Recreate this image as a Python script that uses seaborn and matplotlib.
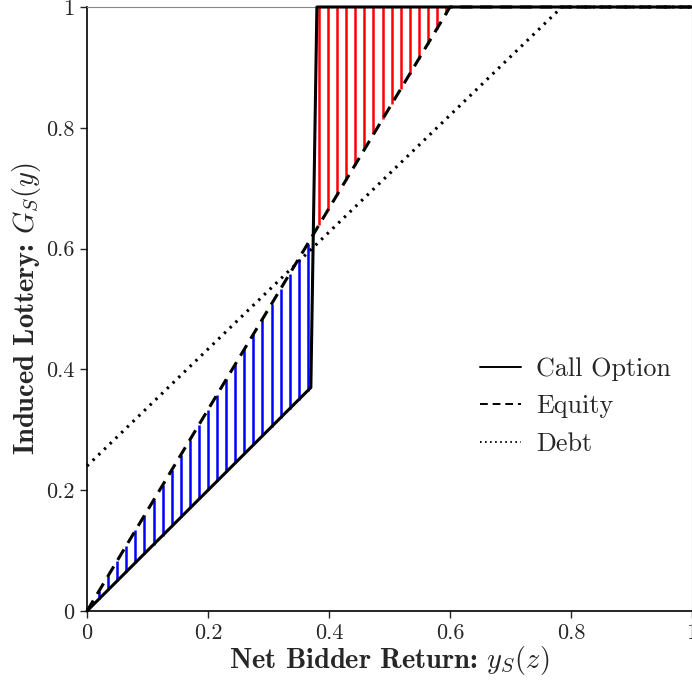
import numpy as np
import pandas as pd
import matplotlib
matplotlib.use("Agg")
import matplotlib.pyplot as plt
import seaborn as sns

# ---- data ----
call_x = [0.0, 0.37, 0.38, 1.0]
call_y = [0.0, 0.37, 1.0, 1.0]
equity_x = [0.0, 0.6, 1.0]
equity_y = [0.0, 1.0, 1.0]
debt_x = [0.0, 0.785, 1.0]
debt_y = [0.24, 1.0, 1.0]
series_names = ["Call Option", "Equity", "Debt"]
x_ticks = [0.0, 0.2, 0.4, 0.6, 0.8, 1.0]
y_ticks = [0.0, 0.2, 0.4, 0.6, 0.8, 1.0]
tick_labels = ["0", "0.2", "0.4", "0.6", "0.8", "1"]

sns.set_style("white")
plt.rcParams["mathtext.fontset"] = "cm"
plt.rcParams["font.family"] = ["cmr10", "DejaVu Serif"]
plt.rcParams["axes.unicode_minus"] = False

df = pd.concat([
    pd.DataFrame({"x": call_x, "y": call_y, "s": series_names[0]}),
    pd.DataFrame({"x": equity_x, "y": equity_y, "s": series_names[1]}),
    pd.DataFrame({"x": debt_x, "y": debt_y, "s": series_names[2]}),
])

fig = plt.figure(figsize=(6.92, 6.86), dpi=100)
ax = fig.add_axes([87/692, 75/686, 605/692, 604/686])

# hatching between call option and equity
hx_blue = np.arange(0.02, 0.3675, 0.015)
ax.vlines(hx_blue, np.interp(hx_blue, call_x, call_y), np.interp(hx_blue, equity_x, equity_y),
          colors="#0000ff", linewidth=1.8, zorder=1)
hx_red = np.arange(0.3835, 0.597, 0.015)
ax.vlines(hx_red, np.interp(hx_red, equity_x, equity_y), np.interp(hx_red, call_x, call_y),
          colors="#ff0000", linewidth=1.8, zorder=1)

sns.lineplot(data=df, x="x", y="y", hue="s", style="s", estimator=None, sort=False,
             palette={n: "black" for n in series_names},
             dashes={"Call Option": "", "Equity": (4, 2.5), "Debt": (0.8, 1.8)},
             linewidth=2.2, ax=ax, legend=True, zorder=3)
for ln in ax.get_lines():
    ln.set_clip_on(False)

ax.set_xlim(0, 1)
ax.set_ylim(0, 1)
ax.set_xticks(x_ticks)
ax.set_yticks(y_ticks)
ax.set_xticklabels(tick_labels, fontsize=16, fontfamily="cmr10")
ax.set_yticklabels(tick_labels, fontsize=16, fontfamily="cmr10")
ax.tick_params(direction="out", length=5, width=1, bottom=True, left=True, pad=4)
ax.set_xlabel("Net Bidder Return: $y_S(z)$", fontsize=20.5, fontfamily="cmb10", labelpad=1)
ax.set_ylabel("Induced Lottery: $G_S(y)$", fontsize=20.5, fontfamily="cmb10", labelpad=2)

for side in ["left", "bottom"]:
    ax.spines[side].set_color("black")
    ax.spines[side].set_linewidth(1.2)
for side in ["top", "right"]:
    ax.spines[side].set_color("#888888")
    ax.spines[side].set_linewidth(0.8)

handles, labels = ax.get_legend_handles_labels()
leg = ax.legend(handles, labels, loc="upper left", bbox_to_anchor=(0.65, 0.42),
                frameon=False, prop={"family": "cmr10", "size": 18.8},
                borderpad=0, borderaxespad=0,
                handlelength=1.55, handletextpad=0.58, labelspacing=0.52)
for ln in leg.get_lines():
    ln.set_linewidth(1.4)

fig.savefig("out.png", dpi=100)
